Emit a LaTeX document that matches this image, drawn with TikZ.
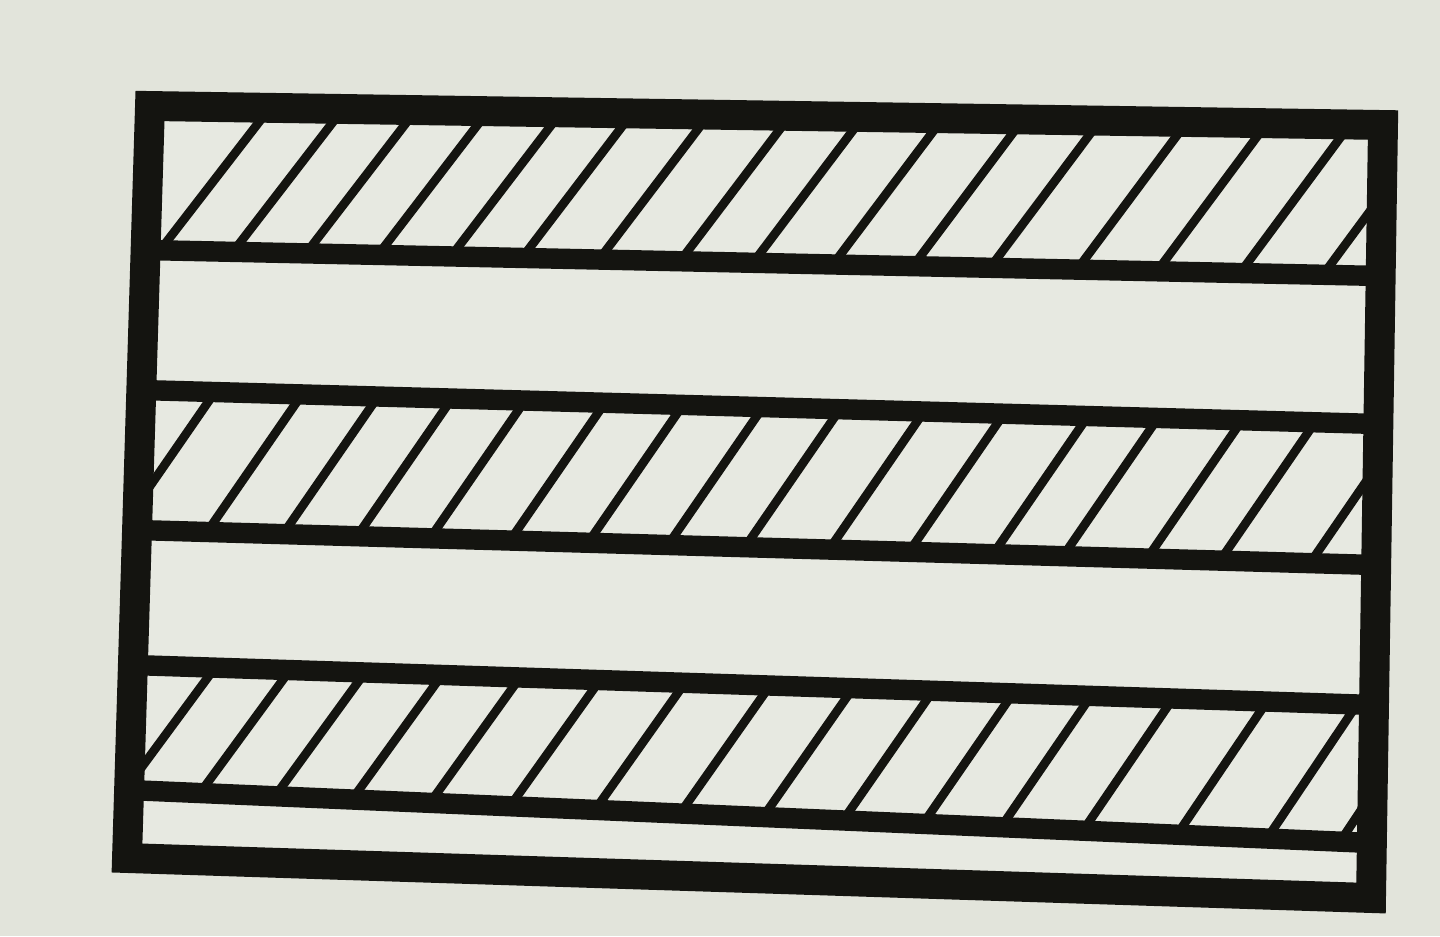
\documentclass[tikz,border=0pt]{standalone}
\definecolor{carta}{RGB}{226,228,219}
\definecolor{cartachiara}{RGB}{231,233,225}
\definecolor{inchiostro}{RGB}{20,20,16}
\begin{document}
\begin{tikzpicture}[x=0.01cm, y=-0.01cm,
        cornice/.style={line width=8.5pt, color=inchiostro, line join=miter},
        separatore/.style={line width=5.8pt, color=inchiostro},
        tratteggio/.style={line width=2.5pt, color=inchiostro, shorten <=-6pt, shorten >=-6pt}
    ]
    % Sfondo
    \fill[carta] (0,0) rectangle (1440,936);
    \useasboundingbox (0,0) rectangle (1440,936);

    % Vertici
    \coordinate (tl) at (150,106);
    \coordinate (tr) at (1383,125);
    \coordinate (br) at (1371,898);
    \coordinate (bl) at (127,858);
    \coordinate (a1) at (145,250);
    \coordinate (a2) at (1381,276);
    \coordinate (b1) at (141,390);
    \coordinate (b2) at (1378,424);
    \coordinate (c1) at (137,530);
    \coordinate (c2) at (1376,565);
    \coordinate (d1) at (133,665);
    \coordinate (d2) at (1374,705);
    \coordinate (e1) at (129,790);
    \coordinate (e2) at (1372,843);

    \fill[cartachiara] (tl) -- (tr) -- (br) -- (bl) -- cycle;

    % Tratteggio (fascia 1)
    \begin{scope}
        \clip (tl) -- (tr) -- (a2) -- (a1) -- cycle;
        \foreach \x in {160,233,306,378,451,522,599,680,753,833,913,990,1077,1157,1240,1323} {
            \draw[tratteggio] (\x,{250+(\x-145)/1236*26}) -- ({\x+110},{106+(\x+110-150)/1233*19});
        }
    \end{scope}

    % Tratteggio (fascia 2)
    \begin{scope}
        \clip (b1) -- (b2) -- (c2) -- (c1) -- cycle;
        \foreach \x in {120,207,283,357,430,510,588,668,745,829,909,993,1063,1147,1220,1310} {
            \draw[tratteggio] (\x,{530+(\x-137)/1239*35}) -- ({\x+95},{390+(\x+95-141)/1237*34});
        }
    \end{scope}

    % Tratteggio (fascia 3)
    \begin{scope}
        \clip (d1) -- (d2) -- (e2) -- (e1) -- cycle;
        \foreach \x in {125,200,275,352,430,510,595,680,763,843,923,1001,1083,1177,1267,1340} {
            \draw[tratteggio] (\x,{790+(\x-129)/1243*53}) -- ({\x+90},{665+(\x+90-133)/1241*40});
        }
    \end{scope}

    % Linee di separazione
    \draw[separatore] (a1) -- (a2);
    \draw[separatore] (b1) -- (b2);
    \draw[separatore] (c1) -- (c2);
    \draw[separatore] (d1) -- (d2);
    \draw[separatore] (e1) -- (e2);

    % Cornice
    \draw[cornice] (tl) -- (tr) -- (br) -- (bl) -- cycle;
\end{tikzpicture}
\end{document}
